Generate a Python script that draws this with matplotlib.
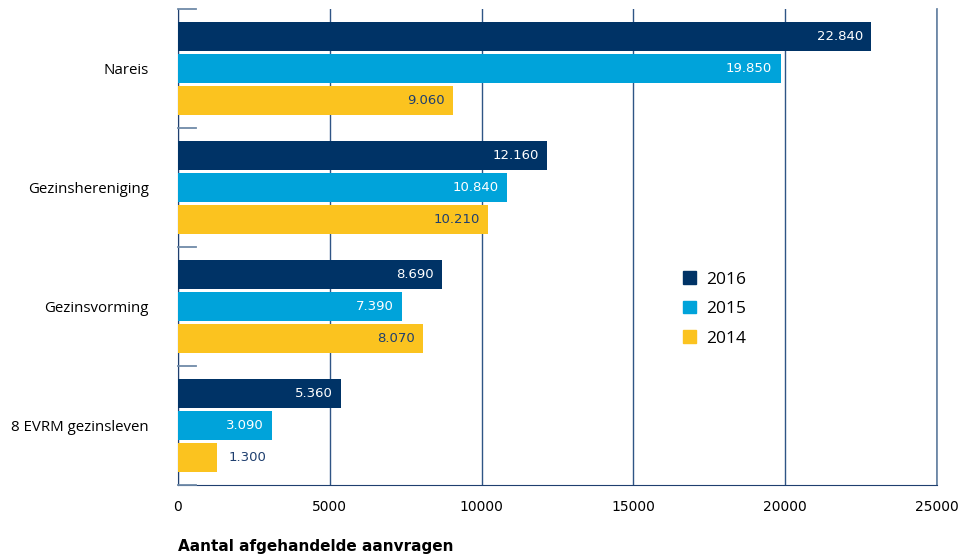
import numpy as np
import matplotlib
matplotlib.use("Agg")
import matplotlib.pyplot as plt
from matplotlib.patches import Patch

plt.rcParams["font.family"] = "DejaVu Sans"

categories = ["Nareis", "Gezinshereniging", "Gezinsvorming", "8 EVRM gezinsleven"]
years = ["2016", "2015", "2014"]
vals_2016 = [22840, 12160, 8690, 5360]
vals_2015 = [19850, 10840, 7390, 3090]
vals_2014 = [9060, 10210, 8070, 1300]
labels_2016 = ["22.840", "12.160", "8.690", "5.360"]
labels_2015 = ["19.850", "10.840", "7.390", "3.090"]
labels_2014 = ["9.060", "10.210", "8.070", "1.300"]

colors = ["#003366", "#00a3da", "#fbc31f"]
text_colors = ["white", "white", "#1f3f6f"]
grid_col = "#2f5585"

fig = plt.figure(figsize=(9.63, 5.57), dpi=100)
ax = fig.add_axes([0.1848, 0.1293, 0.973 - 0.1848, 0.9838 - 0.1293])

y = np.arange(len(categories))
h = 29 / 119
step = 32 / 119
series = [vals_2016, vals_2015, vals_2014]
lbls = [labels_2016, labels_2015, labels_2014]

for i, (vals, lab) in enumerate(zip(series, lbls)):
    pos = y + (i - 1) * step
    ax.barh(pos, vals, height=h, color=colors[i], zorder=3)
    for p, v, t in zip(pos, vals, lab):
        if v < 2000:
            ax.annotate(t, (v, p), xytext=(8, 0), textcoords="offset points",
                        ha="left", va="center", color="#1f3f6f", fontsize=9.5, zorder=4)
        else:
            ax.annotate(t, (v, p), xytext=(-6, 0), textcoords="offset points",
                        ha="right", va="center", color=text_colors[i], fontsize=9.5, zorder=4)

ax.set_xlim(0, 25000)
ax.set_ylim(len(categories) - 0.5, -0.5)
ax.set_xticks(np.arange(0, 25001, 5000))
ax.tick_params(axis="x", length=0, pad=11, labelsize=10)
ax.set_yticks(y)
ax.set_yticklabels(categories, fontsize=10.8, family="Open Sans")
ax.tick_params(axis="y", length=0, pad=21)

# short boundary ticks at the left
for b in np.arange(-0.5, len(categories), 1.0):
    ax.plot([0, 600], [b, b], color="#6f8aa8", lw=1.3, zorder=4, clip_on=False)

ax.grid(axis="x", color=grid_col, lw=1.0, zorder=0)
ax.axvline(25000, color="#6f8aa8", lw=1.3, zorder=0, clip_on=False)
for s in ["top", "right"]:
    ax.spines[s].set_visible(False)
ax.spines["left"].set_color("#1f3f6f")
ax.spines["bottom"].set_color("#1f3f6f")

ax.set_xlabel("Aantal afgehandelde aanvragen", fontsize=11, fontweight="bold",
              loc="left", labelpad=18)

handles = [Patch(color=c, label=l) for c, l in zip(colors, years)]
ax.legend(handles=handles, loc="center left", bbox_to_anchor=(0.645, 0.37),
          frameon=False, handlelength=0.75, handleheight=0.75,
          handletextpad=0.55, labelspacing=0.75, prop={"family": "Open Sans", "size": 12.5})

fig.savefig("out.png", dpi=100)
